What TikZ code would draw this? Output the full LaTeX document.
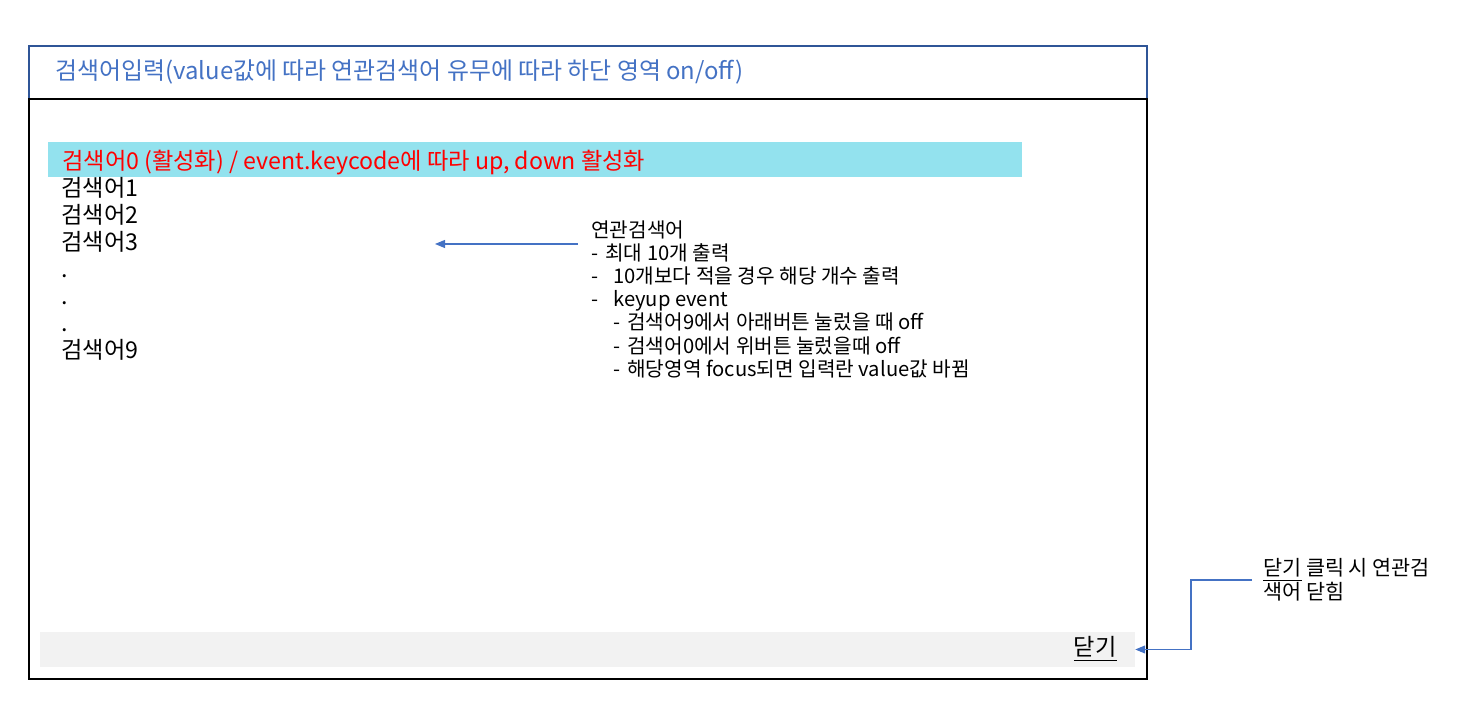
\documentclass[tikz,border=0pt]{standalone}
\usepackage{fontspec}
\setmainfont{Noto Sans CJK KR}
\usetikzlibrary{arrows.meta,positioning}
\definecolor{srchBlue}{HTML}{4472C4}
\definecolor{srchFrame}{HTML}{2F5597}
\definecolor{srchCyan}{HTML}{93E2EE}
\definecolor{srchGray}{HTML}{F2F2F2}
\definecolor{srchRed}{HTML}{FF0000}
\newcommand{\notedash}[1]{\makebox[#1][l]{-}}
\tikzset{
    >={Triangle[length=2mm,width=1.6mm]},
    headbox/.style={draw=srchFrame, line width=1.1pt, minimum width=22.36cm, minimum height=1.06cm, inner sep=0pt},
    framebox/.style={draw=black, line width=1.2pt, minimum width=22.36cm, minimum height=11.6cm, inner sep=0pt},
    activebar/.style={fill=srchCyan, minimum width=19.48cm, minimum height=0.7cm, inner sep=0pt},
    closebar/.style={fill=srchGray, minimum width=21.9cm, minimum height=0.7cm, inner sep=0pt},
    headtext/.style={text=srchBlue, font=\fontsize{13.6}{16}\selectfont, inner sep=0pt},
    itemtext/.style={text=black, font=\fontsize{13.2}{15}\selectfont, inner sep=0pt},
    notetext/.style={text=black, align=left, font=\fontsize{11.5}{13.2}\selectfont, inner sep=0pt},
    link/.style={->, line width=0.6pt, draw=srchBlue}
}
\begin{document}
\begin{tikzpicture}[x=0.02cm, y=-0.02cm]
\useasboundingbox (0,0) rectangle (1465,715);
% search box
\node[headbox] (head) at (588,72.5) {};
\node[framebox] (frame) at (588,389) {};
\node[headtext, anchor=base west] (headlabel) at (55,80) {검색어입력(value값에 따라 연관검색어 유무에 따라 하단 영역 on/off)};
% list
\node[activebar] (active) at (535,159.5) {};
\node[itemtext, text=srchRed, anchor=base west] (item0) at (62,170) {검색어0 (활성화) / event.keycode에 따라 up, down 활성화};
\foreach \t [count=\i] in {검색어1,검색어2,검색어3,.,.,.,검색어9}
    \node[itemtext, anchor=base west] (item\i) at (61,{197+27*(\i-1)}) {\t};
\node[closebar] (close) at (587.5,649.5) {};
\node[itemtext, anchor=base east] (closebtn) at (1117,656) {\underline{닫기}};
% notes
\node[notetext, anchor=north west] (related) at (591,220) {연관검색어\\
    \notedash{0.28cm}최대 10개 출력\\
    \notedash{0.44cm}10개보다 적을 경우 해당 개수 출력\\
    \notedash{0.44cm}keyup event\\
    \hspace*{0.44cm}\notedash{0.28cm}검색어9에서 아래버튼 눌렀을 때 off\\
    \hspace*{0.44cm}\notedash{0.28cm}검색어0에서 위버튼 눌렀을때 off\\
    \hspace*{0.44cm}\notedash{0.28cm}해당영역 focus되면 입력란 value값 바뀜};
\coordinate (listpt) at (435,244);
\node[notetext, font=\fontsize{11.8}{13.6}\selectfont, inner xsep=0.22cm, anchor=west] (closenote) at (1252,580) {\underline{닫기} 클릭 시 연관검\\색어 닫힘};
\draw[link] (related.west |- listpt) ++(-13,0) -- (listpt);
\draw[link] (closenote.west) -- ++(-61,0) |- (close.east);
\end{tikzpicture}
\end{document}
